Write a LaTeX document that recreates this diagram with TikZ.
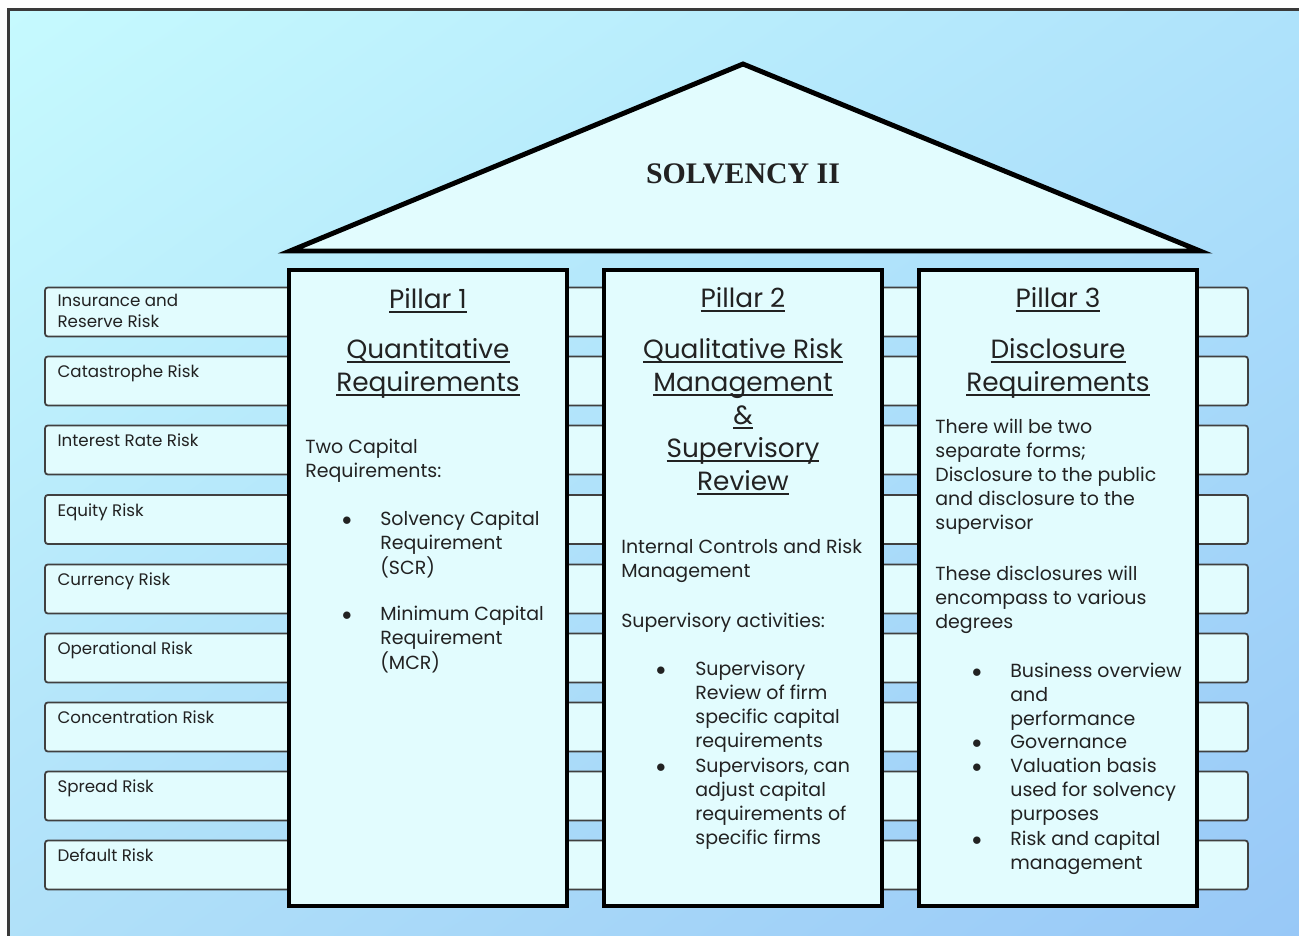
\documentclass[tikz,border=0pt]{standalone}
\usepackage{fontspec}
\setmainfont{Poppins}
\newfontfamily\roofserif{Liberation Serif}
\newcommand{\ulword}[1]{{\setbox0\hbox{#1}\rlap{\rule[-2.6pt]{\wd0}{0.8pt}}\box0}}
\newcommand{\lefttop}[1]{\begin{tabular}[t]{@{}l@{}}#1\end{tabular}}
\newcommand{\midtop}[1]{\begin{tabular}[t]{@{}c@{}}#1\end{tabular}}
\usetikzlibrary{positioning,calc,shadings}
\definecolor{skytl}{HTML}{C6FAFE}
\definecolor{skytr}{HTML}{AEE2FB}
\definecolor{skybl}{HTML}{B0E0F9}
\definecolor{skybr}{HTML}{97C7F7}
\definecolor{paleice}{HTML}{E2FCFE}
\definecolor{bandgray}{HTML}{404040}
\definecolor{framegray}{HTML}{3A3A3A}
\definecolor{inkgray}{HTML}{222222}
\tikzset{
  riskband/.style={draw=bandgray, line width=1pt, fill=paleice, rounded corners=1.5pt,
                   minimum width=24.06cm, minimum height=0.98cm, inner sep=0pt},
  pillarbox/.style={draw=black, line width=2.5pt, fill=paleice,
                    minimum width=5.56cm, minimum height=12.72cm, inner sep=0pt},
  risklabel/.style={anchor=base west, inner sep=0pt, text=inkgray,
                    font=\fontsize{9.5}{11.9}\selectfont},
  headtext/.style={anchor=base, inner sep=0pt, text=inkgray,
                   font=\fontsize{15}{18.8}\selectfont},
  bodytext/.style={anchor=base west, inner sep=0pt, text=inkgray,
                   font=\fontsize{10.8}{13.7}\selectfont},
  dotmark/.style={anchor=base, inner sep=0pt, text=inkgray,
                  font=\fontsize{10.8}{13.7}\selectfont}}

\begin{document}
\begin{tikzpicture}[x=0.02cm, y=-0.02cm]
    \useasboundingbox (0,0) rectangle (1299,936);
    \clip (0,0) rectangle (1299,936);
    % backdrop and frame
    \shade[upper left=skytl, upper right=skytr, lower left=skybl, lower right=skybr]
      (8.7,9.7) rectangle (1320,960);
    \draw[framegray, line width=1.4pt] (8.7,960) -- (8.7,9.7) -- (1320,9.7);

    % risk bands behind the pillars
    \node[riskband] (r1) at (646.5,312) {};
    \node[riskband] (r2) at (646.5,381) {};
    \node[riskband] (r3) at (646.5,450) {};
    \node[riskband] (r4) at (646.5,519.5) {};
    \node[riskband] (r5) at (646.5,589) {};
    \node[riskband] (r6) at (646.5,658) {};
    \node[riskband] (r7) at (646.5,727) {};
    \node[riskband] (r8) at (646.5,796) {};
    \node[riskband] (r9) at (646.5,865) {};
    \node[risklabel] (l1) at ([shift={(13,20)}]r1.north west) {\lefttop{Insurance and\\Reserve Risk}};
    \node[risklabel] (l2) at ([shift={(13,22)}]r2.north west) {Catastrophe Risk};
    \node[risklabel] (l3) at ([shift={(13,22)}]r3.north west) {Interest Rate Risk};
    \node[risklabel] (l4) at ([shift={(13,22)}]r4.north west) {Equity Risk};
    \node[risklabel] (l5) at ([shift={(13,22)}]r5.north west) {Currency Risk};
    \node[risklabel] (l6) at ([shift={(13,22)}]r6.north west) {Operational Risk};
    \node[risklabel] (l7) at ([shift={(13,22)}]r7.north west) {Concentration Risk};
    \node[risklabel] (l8) at ([shift={(13,22)}]r8.north west) {Spread Risk};
    \node[risklabel] (l9) at ([shift={(13,22)}]r9.north west) {Default Risk};

    % roof
    \draw[line width=2.8pt, fill=paleice, line join=miter] (290,251) -- (743,64) -- (1200,251) -- cycle;
    \node[anchor=base, inner sep=0pt, text=inkgray, font=\roofserif\bfseries\fontsize{17}{20}\selectfont]
      (roof) at (743,184) {SOLVENCY II};

    % pillars
    \node[pillarbox] (p1) at (428,588) {};
    \node[pillarbox] (p2) at (743,588) {};
    \node[pillarbox] (p3) at (1058,588) {};

    % pillar 1
    \node[headtext] (p1head) at (428,308) {\ulword{Pillar 1}};
    \node[headtext] (p1sub) at (428,358) {\midtop{\ulword{Quantitative}\\\ulword{Requirements}}};
    \node[bodytext] (p1body) at (305,453) {\lefttop{Two Capital\\Requirements:}};
    \node[dotmark] (p1d1) at (347,525) {$\bullet$};
    \node[bodytext] (p1i1) at (380,525) {\lefttop{Solvency Capital\\Requirement\\(SCR)}};
    \node[dotmark] (p1d2) at (347,620) {$\bullet$};
    \node[bodytext] (p1i2) at (380,620) {\lefttop{Minimum Capital\\Requirement\\(MCR)}};

    % pillar 2
    \node[headtext] (p2head) at (743,307) {\ulword{Pillar 2}};
    \node[headtext] (p2sub) at (743,358)
      {\midtop{\ulword{Qualitative Risk}\\\ulword{Management}\\\ulword{\&}\\\ulword{Supervisory}\\\ulword{Review}}};
    \node[bodytext] (p2body) at (621,553) {\lefttop{Internal Controls and Risk\\Management}};
    \node[bodytext] (p2act) at (621,627) {Supervisory activities:};
    \node[dotmark] (p2d1) at (661,675) {$\bullet$};
    \node[bodytext] (p2i1) at (695,675) {\lefttop{Supervisory\\Review of firm\\specific capital\\requirements}};
    \node[dotmark] (p2d2) at (661,772) {$\bullet$};
    \node[bodytext] (p2i2) at (695,772) {\lefttop{Supervisors, can\\adjust capital\\requirements of\\specific firms}};

    % pillar 3
    \node[headtext] (p3head) at (1058,307) {\ulword{Pillar 3}};
    \node[headtext] (p3sub) at (1058,358) {\midtop{\ulword{Disclosure}\\\ulword{Requirements}}};
    \node[bodytext] (p3body) at (935,433)
      {\lefttop{There will be two\\separate forms;\\Disclosure to the public\\and disclosure to the\\supervisor}};
    \node[bodytext] (p3more) at (935,580) {\lefttop{These disclosures will\\encompass to various\\degrees}};
    \node[dotmark] (p3d1) at (977,677) {$\bullet$};
    \node[bodytext] (p3i1) at (1010,677) {\lefttop{Business overview\\and\\performance}};
    \node[dotmark] (p3d2) at (977,748) {$\bullet$};
    \node[bodytext] (p3i2) at (1010,748) {Governance};
    \node[dotmark] (p3d3) at (977,772) {$\bullet$};
    \node[bodytext] (p3i3) at (1010,772) {\lefttop{Valuation basis\\used for solvency\\purposes}};
    \node[dotmark] (p3d4) at (977,845) {$\bullet$};
    \node[bodytext] (p3i4) at (1010,845) {\lefttop{Risk and capital\\management}};
  \end{tikzpicture}
\end{document}
